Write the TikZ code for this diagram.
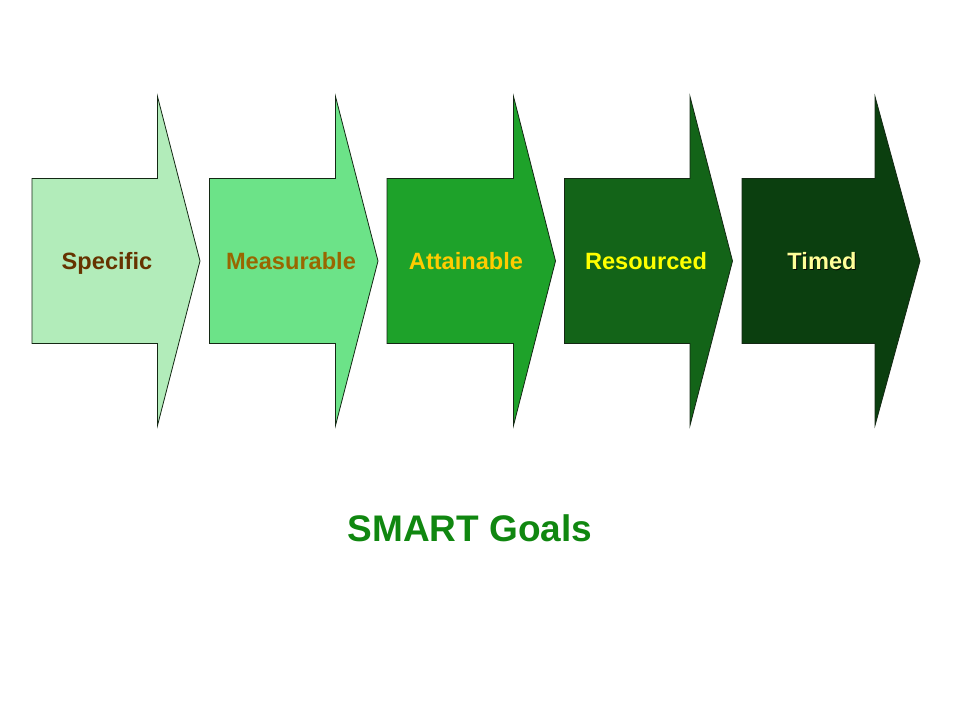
\documentclass[tikz,border=0pt]{standalone}
\usepackage{fontspec}
\setmainfont{Liberation Sans}
\usetikzlibrary{calc}
\definecolor{specfill}{RGB}{178,236,186}
\definecolor{measfill}{RGB}{108,227,136}
\definecolor{attfill}{RGB}{30,162,42}
\definecolor{resfill}{RGB}{19,100,24}
\definecolor{timfill}{RGB}{11,63,15}
\definecolor{edgegreen}{RGB}{20,40,20}
\definecolor{spectext}{RGB}{102,51,0}
\definecolor{meastext}{RGB}{153,102,0}
\definecolor{atttext}{RGB}{255,204,0}
\definecolor{restext}{RGB}{255,255,0}
\definecolor{timtext}{RGB}{255,255,153}
\definecolor{titlegreen}{RGB}{16,135,16}
\def\goalarrow[#1](#2)(#3:#4){\draw[#1, shift={(#2)}] (0,-82.5) -- (#3,-82.5) -- (#3,-164.5) -- ({#3+#4},0) -- (#3,164.5) -- (#3,82.5) -- (0,82.5) -- cycle;}
\tikzset{
	label text/.style={font=\fontsize{23.6}{28}\selectfont\bfseries, anchor=base, inner sep=0pt}
}

\begin{document}
\begin{tikzpicture}[x=1pt, y=-1pt]
		%%%%% START %%%%%
		
		\useasboundingbox[fill=white] (0, 0) rectangle (960, 720);
		
		\goalarrow[fill=specfill, draw=edgegreen, line width=0.8pt](32, 261)(125.5:42.5);
		\goalarrow[fill=measfill, draw=edgegreen, line width=0.8pt](209.5, 261)(126:42.5);
		\goalarrow[fill=attfill, draw=edgegreen, line width=0.8pt](387, 261)(126.5:42);
		\goalarrow[fill=resfill, draw=edgegreen, line width=0.8pt](564.5, 261)(125.5:42.5);
		\goalarrow[fill=timfill, draw=edgegreen, line width=0.8pt](742, 261)(133:45);
		
		\node[label text, color=spectext] (spec) at (107, 269) {Specific};
		\node[label text, color=meastext] (meas) at (291, 269) {Measurable};
		\node[label text, color=atttext] (att) at (466, 269) {Attainable};
		\node[label text, color=restext] (res) at (646, 269) {Resourced};
		\node[label text, color=black] (timshadow) at (822.8, 270.3) {Timed};
		\node[label text, color=timtext] (tim) at (822, 269) {Timed};
		
		\node[font=\fontsize{37}{44}\selectfont\bfseries, color=titlegreen, anchor=base, inner sep=0pt] (title) at (470, 541) {SMART Goals};
		
		%%%%% END %%%%%
	\end{tikzpicture}
\end{document}
